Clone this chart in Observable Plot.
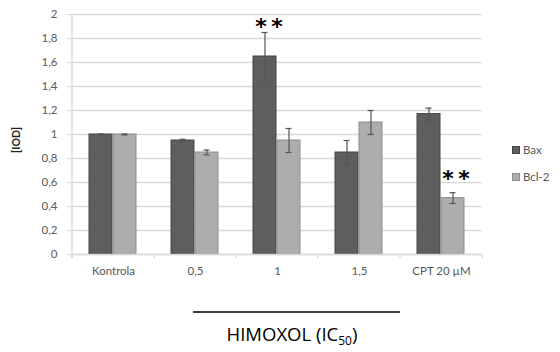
<!DOCTYPE html>
<html>
<head>
<meta charset="utf-8">
<script src="https://cdn.jsdelivr.net/npm/d3@7"></script>
<script src="https://cdn.jsdelivr.net/npm/@observablehq/plot@0.6"></script>
<style>
  body { margin: 0; background: #fff; }
  #chart { position: relative; width: 560px; height: 352px; }
  .legend { position: absolute; left: 512px; top: 136px; font: 11.5px Lato, sans-serif; color: #595959; }
  .legend div { display: flex; align-items: center; height: 27px; }
  .legend span.sw { display: inline-block; width: 8px; height: 8px; margin-right: 3px; box-sizing: border-box; }
</style>
</head>
<body>
<div id="chart"></div>
<script>
// Relative protein level (IOD) of Bax and Bcl-2 after HIMOXOL treatment
const categories = ["Kontrola", "0,5", "1", "1,5", "CPT 20 µM"];
const series = ["Bax", "Bcl-2"];
const baxValues = [1.0, 0.95, 1.65, 0.85, 1.17];
const baxErrors = [0.004, 0.01, 0.2, 0.1, 0.05];
const bclValues = [1.0, 0.85, 0.95, 1.1, 0.47];
const bclErrors = [0.004, 0.02, 0.1, 0.1, 0.045];
const baxSignificant = [false, false, true, false, false];
const bclSignificant = [false, false, false, false, true];
const yTicks = [0, 0.2, 0.4, 0.6, 0.8, 1, 1.2, 1.4, 1.6, 1.8, 2];
const seriesFill = ["#5e5e5e", "#adadad"];
const seriesStroke = ["#444444", "#8e8e8e"];

const rows = [];
categories.forEach((c, i) => {
  rows.push({category: c, series: "Bax", value: baxValues[i], err: baxErrors[i], sig: baxSignificant[i]});
  rows.push({category: c, series: "Bcl-2", value: bclValues[i], err: bclErrors[i], sig: bclSignificant[i]});
});

const commaFormat = d => String(d).replace(".", ",");
const starStyle = {
  fx: "category", x: "series", y: d => d.value + d.err,
  text: () => "*\u2009*", lineAnchor: "middle",
  fontSize: 22, fontWeight: "bold", fill: "black", fontFamily: "DejaVu Sans, sans-serif"
};

const plot = Plot.plot({
  width: 560,
  height: 352,
  marginLeft: 70,
  marginRight: 77,
  marginTop: 14,
  marginBottom: 98,
  style: {fontFamily: "Lato, sans-serif", fontSize: "11.5px", color: "#595959", background: "white"},
  fx: {domain: categories, padding: 0, label: null},
  x: {domain: series, paddingInner: 0.04, paddingOuter: 0.72, axis: null},
  y: {domain: [0, 2], label: null},
  color: {domain: series, range: seriesFill},
  marks: [
    Plot.gridY(yTicks, {stroke: "#d9d9d9", strokeOpacity: 1, strokeWidth: 1.3}),
    Plot.axisY(yTicks, {tickSize: 5, tickPadding: 10, tickFormat: commaFormat, stroke: "#d9d9d9", label: null}),
    Plot.axisFx({anchor: "bottom", tickSize: 0, tickPadding: 12, label: null}),
    Plot.barY(rows, {
      fx: "category", x: "series", y: "value", fill: "series",
      stroke: d => seriesStroke[series.indexOf(d.series)], strokeWidth: 1
    }),
    Plot.ruleY([0], {stroke: "#d9d9d9", strokeWidth: 1.3}),
    Plot.ruleX(rows, {
      fx: "category", x: "series",
      y1: d => d.value - d.err, y2: d => d.value + d.err,
      stroke: "#555", strokeWidth: 1.2
    }),
    Plot.tickY(rows, {fx: "category", x: "series", y: d => d.value + d.err, insetLeft: 8.5, insetRight: 8.5, stroke: "#555", strokeWidth: 1.2}),
    Plot.tickY(rows, {fx: "category", x: "series", y: d => d.value - d.err, insetLeft: 8.5, insetRight: 8.5, stroke: "#555", strokeWidth: 1.2}),
    // significance markers
    Plot.text(rows.filter(d => d.sig && d.series === "Bax"), {...starStyle, dx: 4, dy: -6}),
    Plot.text(rows.filter(d => d.sig && d.series === "Bcl-2"), {...starStyle, dx: 3, dy: -14})
  ]
});

const svg = d3.select(plot);
const fx = plot.scale("fx");
const yScale = plot.scale("y");
const y0 = yScale.apply(0);
const yTop = yScale.apply(2);
const left = fx.apply(categories[0]);
const right = fx.apply(categories[categories.length - 1]) + fx.step;

// vertical axis line and category separator ticks
svg.append("line")
  .attr("x1", left).attr("x2", left).attr("y1", yTop).attr("y2", y0 + 4)
  .attr("stroke", "#d9d9d9").attr("stroke-width", 1.3);
[...categories.map(c => fx.apply(c)), right].forEach(x => {
  svg.append("line")
    .attr("x1", x).attr("x2", x).attr("y1", y0).attr("y2", y0 + 4)
    .attr("stroke", "#d9d9d9").attr("stroke-width", 1.3);
});

// y-axis title
svg.append("text")
  .attr("transform", `translate(17,140) rotate(-90)`)
  .attr("text-anchor", "middle")
  .attr("dominant-baseline", "middle")
  .attr("font-family", "Lato, sans-serif")
  .attr("font-weight", "bold")
  .attr("font-size", 10.5)
  .attr("fill", "#222")
  .text("[IOD]");

// bracket line and dose label under the HIMOXOL groups
svg.append("line")
  .attr("x1", 193).attr("x2", 400).attr("y1", 312).attr("y2", 312)
  .attr("stroke", "black").attr("stroke-width", 1.5);
const label = svg.append("text")
  .attr("x", 292).attr("y", 341)
  .attr("text-anchor", "middle")
  .attr("font-family", "'Open Sans', sans-serif")
  .attr("font-size", 18.5)
  .attr("fill", "black");
label.append("tspan").text("HIMOXOL (IC");
label.append("tspan").attr("font-size", 12).attr("dy", 4).text("50");
label.append("tspan").attr("dy", -4).text(")");

const chart = document.getElementById("chart");
chart.appendChild(plot);

// series legend
const legend = document.createElement("div");
legend.className = "legend";
series.forEach((s, i) => {
  const item = document.createElement("div");
  const sw = document.createElement("span");
  sw.className = "sw";
  sw.style.background = seriesFill[i];
  sw.style.border = `1px solid ${seriesStroke[i]}`;
  item.appendChild(sw);
  item.appendChild(document.createTextNode(s));
  legend.appendChild(item);
});
chart.appendChild(legend);
</script>
</body>
</html>
